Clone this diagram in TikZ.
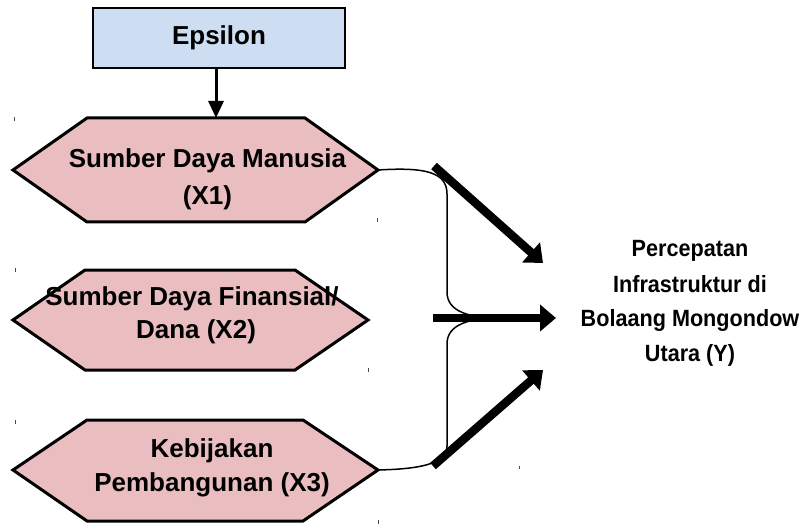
\documentclass[tikz,border=0pt]{standalone}
\usepackage{fontspec}
\setmainfont{Liberation Sans}
\newfontfamily\narrowbold{Liberation Sans}[FakeStretch=0.92]
\usetikzlibrary{arrows.meta}
\definecolor{hexpink}{RGB}{234,190,192}
\definecolor{boxblue}{RGB}{205,221,242}
\begin{document}
\begin{tikzpicture}[x=1pt,y=-1pt,
  hexa/.style={draw=black, line width=3pt, fill=hexpink, line join=miter},
  epsbox/.style={draw=black, line width=2pt, fill=boxblue, minimum width=252pt, minimum height=60pt, inner sep=0pt, font=\fontsize{26}{30}\selectfont\bfseries},
  lbl/.style={font=\fontsize{26}{30}\selectfont\bfseries, anchor=base, inner sep=0pt},
  ylbl/.style={font=\narrowbold\fontsize{23.5}{28}\selectfont\bfseries, anchor=base, inner sep=0pt},
  thinline/.style={line width=1.5pt},
  bigarrow/.style={line width=8.5pt, -{Triangle[length=16pt,width=26pt]}},
  smallarrow/.style={line width=3pt, -{Triangle[length=17pt,width=15pt]}},
  tickmark/.style={line width=1pt, draw=black!70}]
\useasboundingbox (0,0) rectangle (804,524);

% Epsilon box
\node[epsbox] (eps) at (219,38) {Epsilon};

% hexagons
\draw[hexa] (13,170) coordinate (x1l) -- (87,118) -- (216,118) coordinate (x1t) -- (305,118) -- (378,170) coordinate (x1r) -- (305,222) -- (87,222) -- cycle;
\draw[hexa] (13,320) coordinate (x2l) -- (85,270) -- (295,270) -- (368,320) coordinate (x2r) -- (295,370) -- (85,370) -- cycle;
\draw[hexa] (13,470) coordinate (x3l) -- (87,420) -- (303,420) -- (378,470) coordinate (x3r) -- (303,521) -- (87,521) -- cycle;

% hexagon labels
\node[lbl] (x1a) at (207.5,168) {Sumber Daya Manusia};
\node[lbl] (x1b) at (207.5,205) {(X1)};
\node[lbl] (x2a) at (192,305) {Sumber Daya Finansial/};
\node[lbl] (x2b) at (196,338) {Dana (X2)};
\node[lbl] (x3a) at (212,457) {Kebijakan};
\node[lbl] (x3b) at (212,491) {Pembangunan (X3)};

% arrow epsilon -> X1
\draw[smallarrow] (eps.south -| x1t) -- (x1t);

% brace
\coordinate (j) at (500,318);
\draw[thinline] (x1r) .. controls (425,167) and (447,172) .. (447,194) -- (447,292)
   .. controls (447,312) and (470,318) .. (j);
\draw[thinline] (j) .. controls (470,318) and (447,324) .. (447,344) -- (447,446)
   .. controls (447,464) and (420,469) .. (x3r);

% big arrows
\coordinate (a1s) at (434,166);
\coordinate (a1e) at (543,263);
\coordinate (a2s) at (433,318);
\coordinate (a2e) at (556,318);
\coordinate (a3s) at (433,466);
\coordinate (a3e) at (543,370);
\draw[bigarrow] (a1s) -- (a1e);
\draw[bigarrow] (a2s) -- (a2e);
\draw[bigarrow] (a3s) -- (a3e);

% Y label
\node[ylbl] (y1) at (690,257) {Percepatan};
\node[ylbl] (y2) at (690,292) {Infrastruktur di};
\node[ylbl] (y3) at (690,326) {Bolaang Mongondow};
\node[ylbl] (y4) at (690,361) {Utara (Y)};

% small tick marks
\draw[tickmark] (14,117) -- (14,121);
\draw[tickmark] (377,218) -- (377,222);
\draw[tickmark] (15,268) -- (15,272);
\draw[tickmark] (368,368) -- (368,372);
\draw[tickmark] (15,420) -- (15,424);
\draw[tickmark] (378,520) -- (378,524);
\draw[tickmark] (519,466) -- (519,469);
\end{tikzpicture}
\end{document}
